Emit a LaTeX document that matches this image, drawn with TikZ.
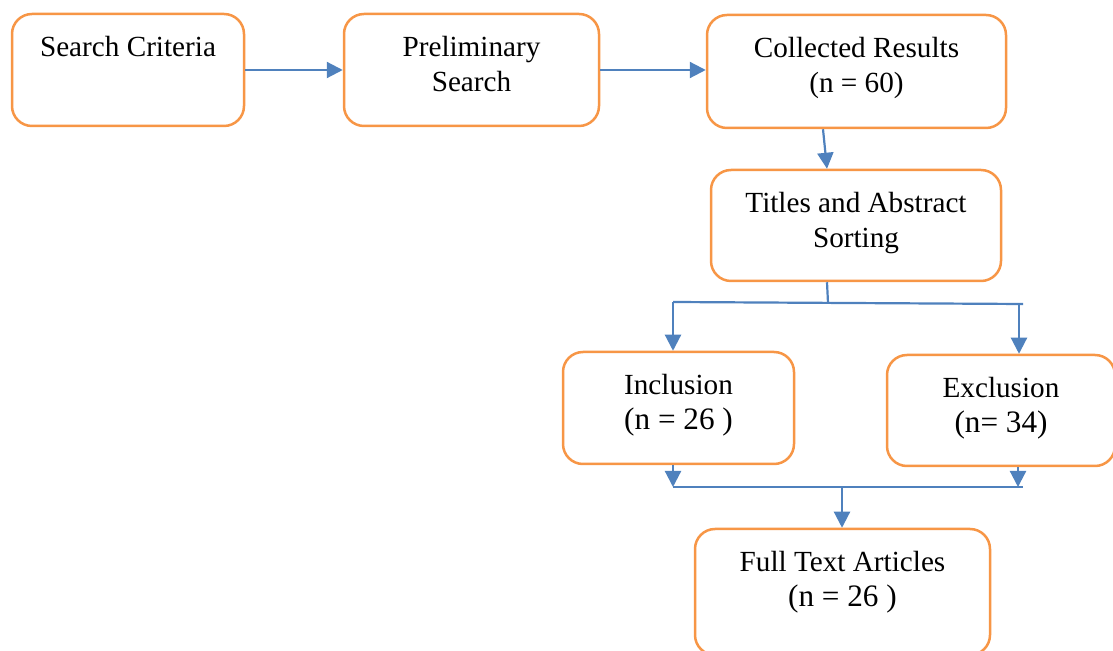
\documentclass[tikz,border=0pt]{standalone}
\usepackage{fontspec}
\setmainfont{Liberation Serif}
\usetikzlibrary{arrows.meta}
\definecolor{boxorange}{HTML}{F79646}
\definecolor{linkblue}{HTML}{4F81BD}
\begin{document}
\begin{tikzpicture}[x=0.5pt,y=-0.5pt,
        box/.style={draw=boxorange,line width=1.25pt,rounded corners=10pt,fill=white,inner sep=0pt},
        boxtxt/.style={anchor=north,inner sep=0pt,align=center,font=\fontsize{14.6}{17.5}\selectfont},
        line/.style={draw=linkblue,line width=1.1pt},
        link/.style={line,-{Triangle[length=8pt,width=8pt]}}]
            \useasboundingbox (0,0) rectangle (1113,651);
            \node[box,minimum width=116pt,minimum height=56pt] (search) at (128,70) {};
            \node[box,minimum width=127.5pt,minimum height=56pt] (prelim) at (471.5,70) {};
            \node[box,minimum width=149.5pt,minimum height=56.5pt] (collected) at (856.5,71.5) {};
            \node[box,minimum width=145pt,minimum height=55.5pt] (titles) at (856,225.5) {};
            \node[box,minimum width=115.5pt,minimum height=56pt] (incl) at (678.5,408) {};
            \node[box,minimum width=114pt,minimum height=55.5pt] (excl) at (1001,410.5) {};
            \node[box,minimum width=147.5pt,minimum height=63pt] (full) at (842.5,592) {};
            \node[boxtxt] (searchtxt) at ([yshift=-11.5pt]search.north) {Search Criteria};
            \node[boxtxt] (prelimtxt) at ([yshift=-11.5pt]prelim.north) {Preliminary\\Search};
            \node[boxtxt] (collectedtxt) at ([yshift=-11.5pt]collected.north) {Collected Results\\(n = 60)};
            \node[boxtxt] (titlestxt) at ([yshift=-11.5pt]titles.north) {Titles and Abstract\\Sorting};
            \node[boxtxt] (incltxt) at ([yshift=-11.5pt]incl.north) {Inclusion\\{\fontsize{15.6}{18}\selectfont(n = 26 )}};
            \node[boxtxt] (excltxt) at ([yshift=-11.5pt]excl.north) {Exclusion\\{\fontsize{15.6}{18}\selectfont(n= 34)}};
            \node[boxtxt] (fulltxt) at ([yshift=-11.5pt]full.north) {Full Text Articles\\{\fontsize{15.6}{18}\selectfont(n = 26 )}};
            \coordinate (split) at (828,303);
            \coordinate (brL) at (673,302);
            \coordinate (brR) at (1023,304);
            \coordinate (brX) at (1019,304);
            \coordinate (jnL) at (673,487);
            \coordinate (jnR) at (1023,487);
            \coordinate (jnX) at (1018,487);
            \coordinate (jnM) at (842,487);
            \draw[link] (search) -- (prelim);
            \draw[link] (prelim.east) -- (prelim.east -| collected.west);
            \draw[link] ([xshift=-16.75pt]collected.south) -- ([xshift=-14.5pt]titles.north);
            \draw[line] ([xshift=-14.5pt]titles.south) -- (split);
            \draw[line] (brL) -- (brR);
            \draw[link] (brL) -- (brL |- incl.north);
            \draw[link] (brX) -- (brX |- excl.north);
            \draw[link] (incl.south -| jnL) -- (jnL);
            \draw[link] (excl.south -| jnX) -- (jnX);
            \draw[line] (jnL) -- (jnR);
            \draw[link] (jnM) -- (jnM |- full.north);
\end{tikzpicture}
\end{document}
